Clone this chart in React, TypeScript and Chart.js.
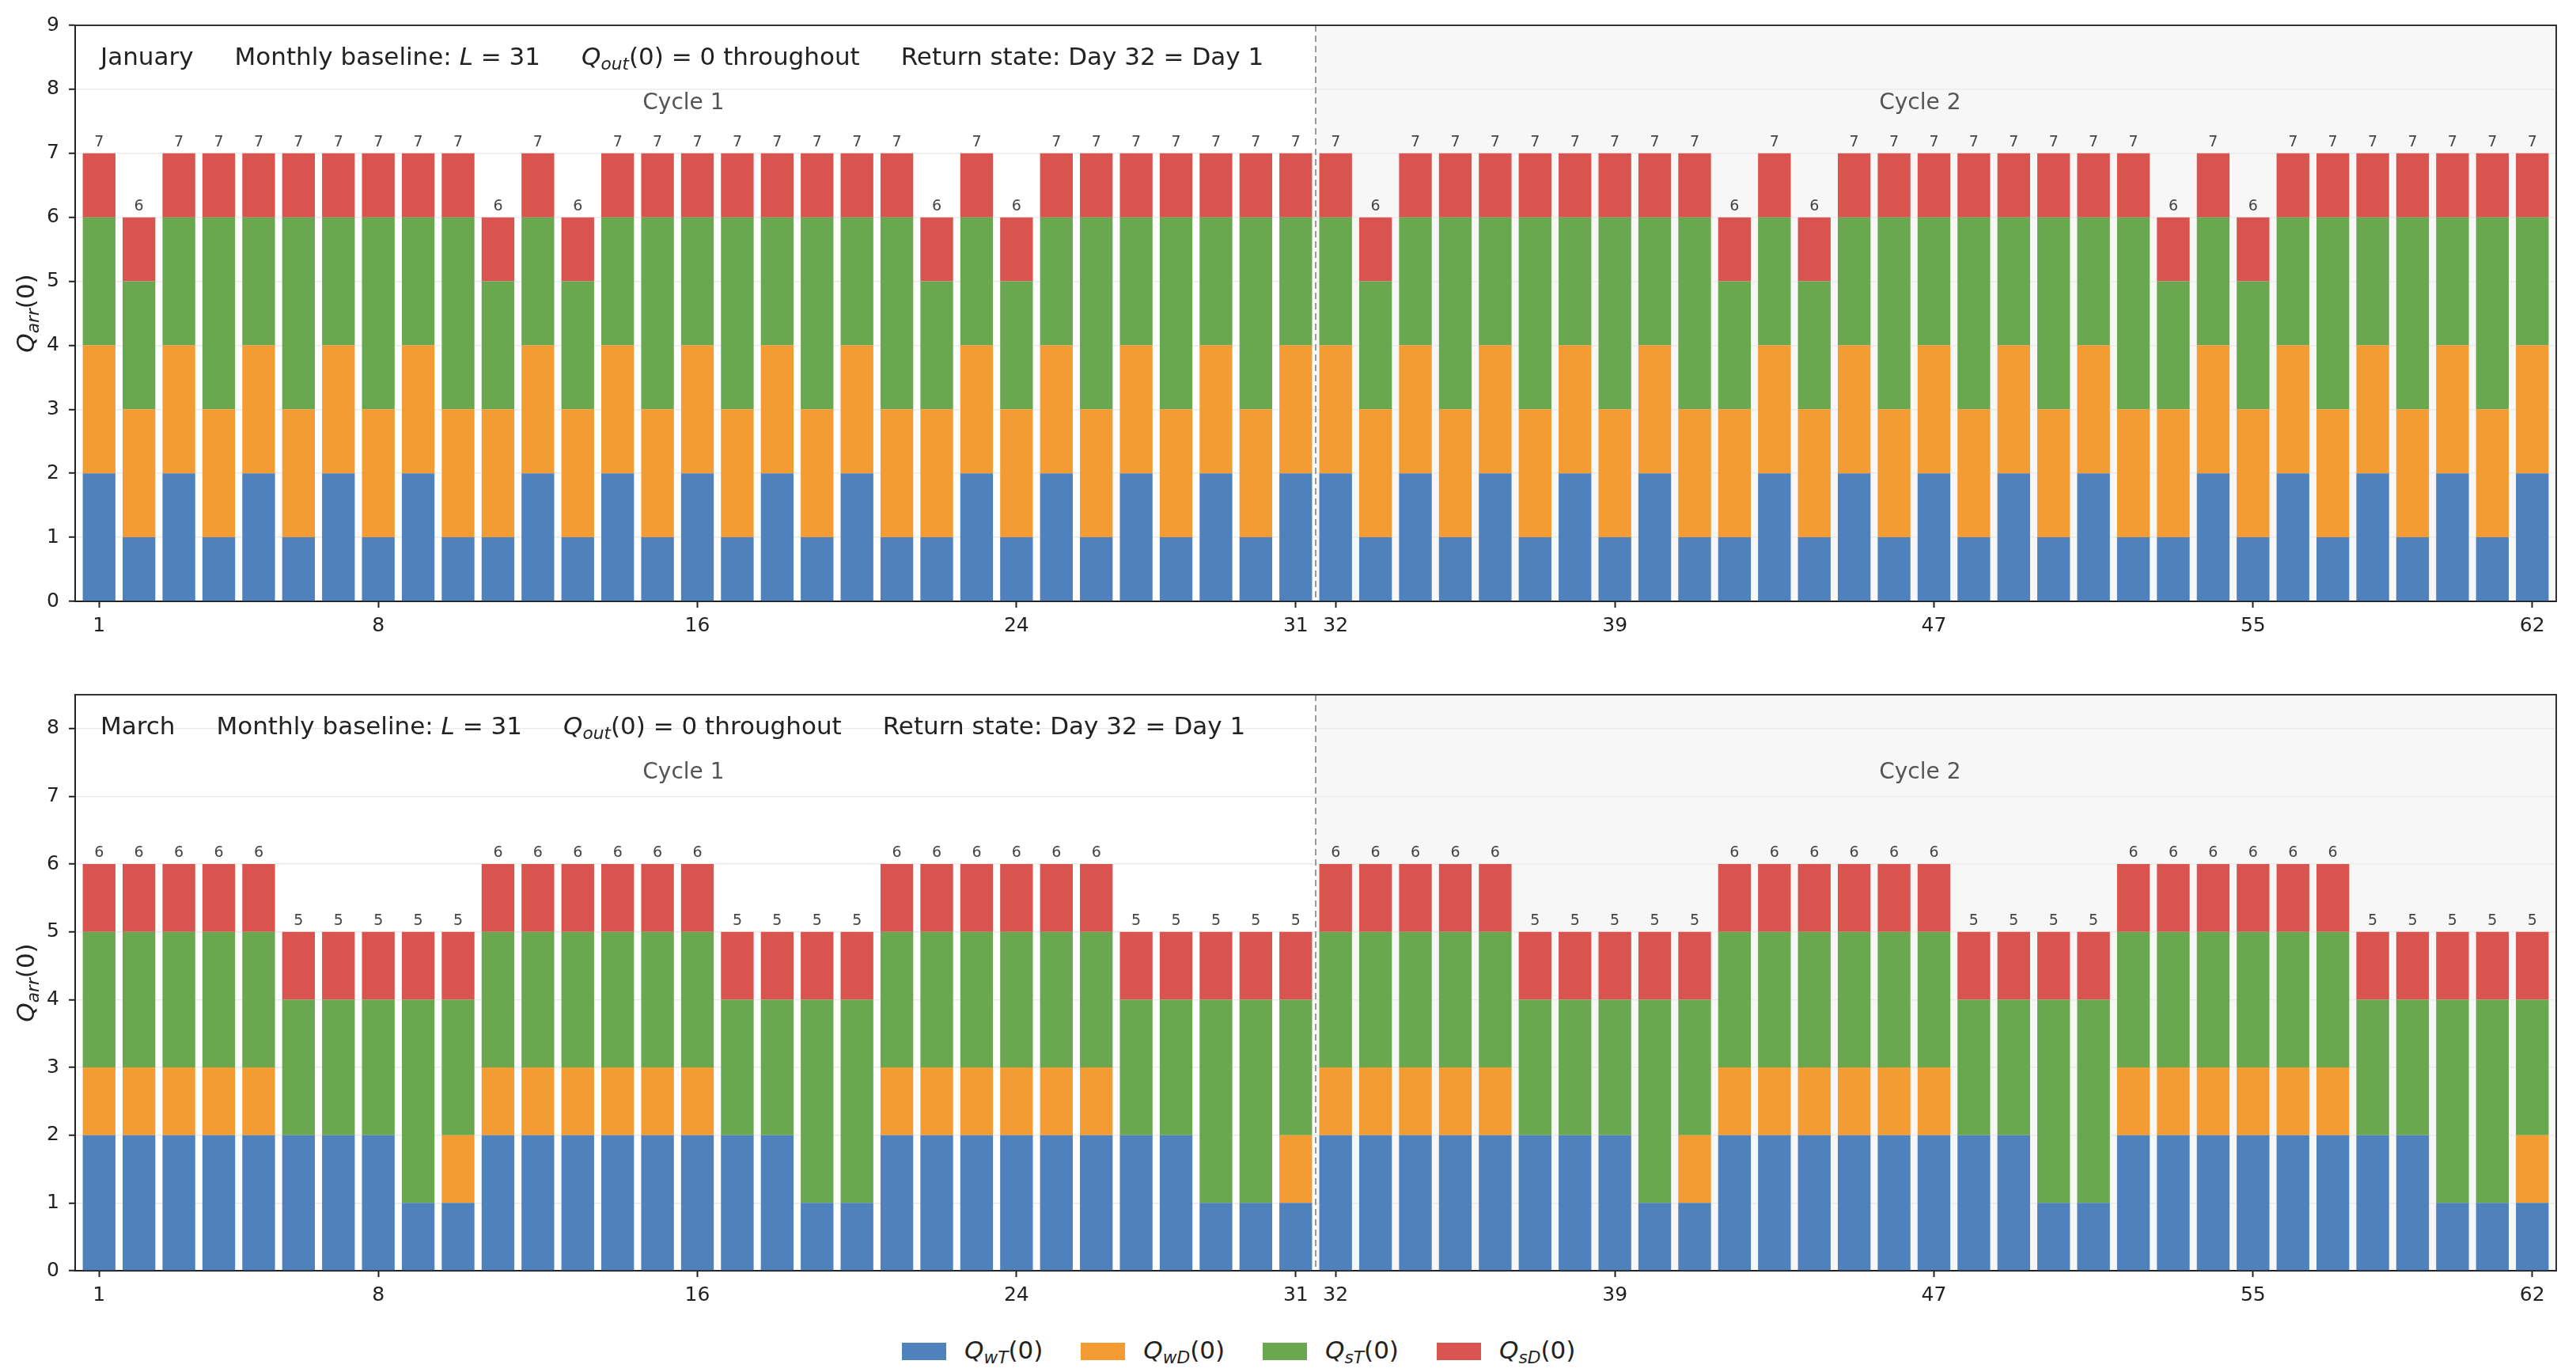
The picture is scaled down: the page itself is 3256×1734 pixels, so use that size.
import React, { useEffect, useRef } from 'react';
import { Chart, registerables } from 'chart.js';

Chart.register(...registerables);

const FONT = 'DejaVu Sans';

// days 1..62 (two 31-day cycles)
const days = Array.from({ length: 62 }, (_, i) => i + 1);
const dayTicks = [1, 8, 16, 24, 31, 32, 39, 47, 55, 62];
const cycleBoundary = 31.5;
const cycleLabelDays = [15.65, 46.65];
const cycleLabels = ['Cycle 1', 'Cycle 2'];

const seriesSubs = ['wT', 'wD', 'sT', 'sD'];
const seriesColors = ['#4f81bd', '#f39c34', '#6aa84f', '#d9534f'];

// January
const janWT = [
    2, 1, 2, 1, 2, 1, 2, 1, 2, 1, 1, 2, 1, 2, 1, 2, 1, 2, 1, 2, 1, 1, 2, 1, 2, 1, 2, 1, 2, 1, 2,
    2, 1, 2, 1, 2, 1, 2, 1, 2, 1, 1, 2, 1, 2, 1, 2, 1, 2, 1, 2, 1, 1, 2, 1, 2, 1, 2, 1, 2, 1, 2,
];
const janWD = [
    2, 2, 2, 2, 2, 2, 2, 2, 2, 2, 2, 2, 2, 2, 2, 2, 2, 2, 2, 2, 2, 2, 2, 2, 2, 2, 2, 2, 2, 2, 2,
    2, 2, 2, 2, 2, 2, 2, 2, 2, 2, 2, 2, 2, 2, 2, 2, 2, 2, 2, 2, 2, 2, 2, 2, 2, 2, 2, 2, 2, 2, 2,
];
const janST = [
    2, 2, 2, 3, 2, 3, 2, 3, 2, 3, 2, 2, 2, 2, 3, 2, 3, 2, 3, 2, 3, 2, 2, 2, 2, 3, 2, 3, 2, 3, 2,
    2, 2, 2, 3, 2, 3, 2, 3, 2, 3, 2, 2, 2, 2, 3, 2, 3, 2, 3, 2, 3, 2, 2, 2, 2, 3, 2, 3, 2, 3, 2,
];
const janSD = [
    1, 1, 1, 1, 1, 1, 1, 1, 1, 1, 1, 1, 1, 1, 1, 1, 1, 1, 1, 1, 1, 1, 1, 1, 1, 1, 1, 1, 1, 1, 1,
    1, 1, 1, 1, 1, 1, 1, 1, 1, 1, 1, 1, 1, 1, 1, 1, 1, 1, 1, 1, 1, 1, 1, 1, 1, 1, 1, 1, 1, 1, 1,
];

// March
const marWT = [
    2, 2, 2, 2, 2, 2, 2, 2, 1, 1, 2, 2, 2, 2, 2, 2, 2, 2, 1, 1, 2, 2, 2, 2, 2, 2, 2, 2, 1, 1, 1,
    2, 2, 2, 2, 2, 2, 2, 2, 1, 1, 2, 2, 2, 2, 2, 2, 2, 2, 1, 1, 2, 2, 2, 2, 2, 2, 2, 2, 1, 1, 1,
];
const marWD = [
    1, 1, 1, 1, 1, 0, 0, 0, 0, 1, 1, 1, 1, 1, 1, 1, 0, 0, 0, 0, 1, 1, 1, 1, 1, 1, 0, 0, 0, 0, 1,
    1, 1, 1, 1, 1, 0, 0, 0, 0, 1, 1, 1, 1, 1, 1, 1, 0, 0, 0, 0, 1, 1, 1, 1, 1, 1, 0, 0, 0, 0, 1,
];
const marST = [
    2, 2, 2, 2, 2, 2, 2, 2, 3, 2, 2, 2, 2, 2, 2, 2, 2, 2, 3, 3, 2, 2, 2, 2, 2, 2, 2, 2, 3, 3, 2,
    2, 2, 2, 2, 2, 2, 2, 2, 3, 2, 2, 2, 2, 2, 2, 2, 2, 2, 3, 3, 2, 2, 2, 2, 2, 2, 2, 2, 3, 3, 2,
];
const marSD = [
    1, 1, 1, 1, 1, 1, 1, 1, 1, 1, 1, 1, 1, 1, 1, 1, 1, 1, 1, 1, 1, 1, 1, 1, 1, 1, 1, 1, 1, 1, 1,
    1, 1, 1, 1, 1, 1, 1, 1, 1, 1, 1, 1, 1, 1, 1, 1, 1, 1, 1, 1, 1, 1, 1, 1, 1, 1, 1, 1, 1, 1, 1,
];

const janTicks = [0, 1, 2, 3, 4, 5, 6, 7, 8, 9];
const marTicks = [0, 1, 2, 3, 4, 5, 6, 7, 8];

type Seg = { t: string; it?: boolean; sub?: boolean };

const fontOf = (size: number, it?: boolean) => `${it ? 'italic ' : ''}${size}px "${FONT}"`;

function richWidth(ctx: CanvasRenderingContext2D, segs: Seg[], size: number) {
    let w = 0;
    for (const s of segs) {
        ctx.font = fontOf(s.sub ? size * 0.7 : size, s.it);
        w += ctx.measureText(s.t).width;
    }
    return w;
}

function drawRich(ctx: CanvasRenderingContext2D, segs: Seg[], x: number, y: number, size: number) {
    for (const s of segs) {
        const sz = s.sub ? size * 0.7 : size;
        ctx.font = fontOf(sz, s.it);
        ctx.fillText(s.t, x, s.sub ? y + size * 0.2 : y);
        x += ctx.measureText(s.t).width;
    }
    return x;
}

const headerParts = (month: string): Seg[][] => [
    [{ t: month }],
    [{ t: 'Monthly baseline: ' }, { t: 'L', it: true }, { t: ' = 31' }],
    [{ t: 'Q', it: true }, { t: 'out', it: true, sub: true }, { t: '(0) = 0 throughout' }],
    [{ t: 'Return state: Day 32 = Day 1' }],
];

const yTitle: Seg[] = [{ t: 'Q', it: true }, { t: 'arr', it: true, sub: true }, { t: '(0)' }];

type Panel = {
    month: string;
    yMax: number;
    yTicks: number[];
    series: number[][];
};

const panels: Panel[] = [
    { month: 'January', yMax: 9, yTicks: janTicks, series: [janWT, janWD, janST, janSD] },
    { month: 'March', yMax: 8.5, yTicks: marTicks, series: [marWT, marWD, marST, marSD] },
];

const PanelChart: React.FC<{ panel: Panel; top: number }> = ({ panel, top }) => {
    const canvasRef = useRef<HTMLCanvasElement>(null);

    useEffect(() => {
        if (!canvasRef.current) return;
        const ctx = canvasRef.current.getContext('2d');
        if (!ctx) return;

        const decor = {
            id: 'decor',
            beforeDraw(chart: any) {
                const { ctx: c, chartArea, scales } = chart;
                const xb = scales.x.getPixelForValue(cycleBoundary);
                c.save();
                c.fillStyle = '#f7f7f7';
                c.fillRect(xb, chartArea.top, chartArea.right - xb, chartArea.bottom - chartArea.top);
                c.restore();
            },
            afterDatasetsDraw(chart: any) {
                const { ctx: c, chartArea, scales } = chart;
                const xb = scales.x.getPixelForValue(cycleBoundary);
                c.save();
                c.strokeStyle = '#9a9a9a';
                c.lineWidth = 2;
                c.setLineDash([8, 5]);
                c.beginPath();
                c.moveTo(xb, chartArea.top);
                c.lineTo(xb, chartArea.bottom);
                c.stroke();
                c.setLineDash([]);

                // totals above bars
                c.fillStyle = '#444';
                c.font = fontOf(19);
                c.textAlign = 'center';
                c.textBaseline = 'alphabetic';
                days.forEach((d, i) => {
                    const total = panel.series.reduce((acc, s) => acc + s[i], 0);
                    const px = scales.x.getPixelForValue(d);
                    const py = scales.y.getPixelForValue(total);
                    c.fillText(String(total), px, py - 9);
                });
                c.restore();
            },
            afterDraw(chart: any) {
                const { ctx: c, chartArea, scales } = chart;
                const { left, right, top: t, bottom } = chartArea;
                c.save();
                c.strokeStyle = '#333';
                c.lineWidth = 2;
                c.beginPath();
                c.moveTo(left, t);
                c.lineTo(right, t);
                c.lineTo(right, bottom);
                c.stroke();

                // header line
                c.fillStyle = '#222';
                c.textAlign = 'left';
                c.textBaseline = 'alphabetic';
                let hx = left + 32;
                for (const part of headerParts(panel.month)) {
                    hx = drawRich(c, part, hx, t + 50, 31) + 52;
                }

                // cycle labels
                c.fillStyle = '#555';
                c.font = fontOf(28);
                c.textAlign = 'center';
                cycleLabels.forEach((lab, k) => {
                    c.fillText(lab, scales.x.getPixelForValue(cycleLabelDays[k]), t + 106);
                });

                // y title
                c.fillStyle = '#222';
                c.textAlign = 'left';
                const size = 31;
                const w = richWidth(c, yTitle, size);
                c.translate(32, (t + bottom) / 2);
                c.rotate(-Math.PI / 2);
                drawRich(c, yTitle, -w / 2, size * 0.35, size);
                c.restore();
            },
        };

        const chart = new Chart(ctx, {
            type: 'bar',
            data: {
                datasets: panel.series.map((vals, k) => ({
                    label: 'Q' + seriesSubs[k] + '(0)',
                    data: days.map((d, i) => ({ x: d, y: vals[i] })),
                    backgroundColor: seriesColors[k],
                    borderWidth: 0,
                    barPercentage: 0.82,
                    categoryPercentage: 1,
                })),
            },
            options: {
                responsive: false,
                animation: false,
                layout: { padding: { top: 32, right: 25, left: 0, bottom: 0 } },
                plugins: {
                    legend: { display: false },
                    tooltip: { enabled: false },
                },
                scales: {
                    x: {
                        type: 'linear',
                        min: 0.4,
                        max: 62.6,
                        offset: false,
                        stacked: true,
                        afterBuildTicks: (s: any) => {
                            s.ticks = dayTicks.map((v) => ({ value: v }));
                        },
                        afterFit: (s: any) => {
                            s.height = 60;
                        },
                        ticks: {
                            autoSkip: false,
                            maxRotation: 0,
                            padding: 8,
                            color: '#222',
                            font: { family: FONT, size: 25 },
                            callback: (v: any) => String(v),
                        },
                        grid: {
                            offset: false,
                            drawOnChartArea: false,
                            drawTicks: true,
                            tickLength: 8,
                            tickColor: '#222',
                            tickWidth: 2,
                        },
                        border: { color: '#222', width: 2 },
                    },
                    y: {
                        stacked: true,
                        min: 0,
                        max: panel.yMax,
                        afterBuildTicks: (s: any) => {
                            s.ticks = panel.yTicks.map((v) => ({ value: v }));
                        },
                        afterFit: (s: any) => {
                            s.width = 95;
                        },
                        ticks: {
                            padding: 12,
                            color: '#222',
                            font: { family: FONT, size: 25 },
                            callback: (v: any) => String(v),
                        },
                        grid: {
                            color: '#ebebeb',
                            lineWidth: 1.5,
                            tickColor: '#222',
                            tickLength: 8,
                            tickWidth: 2,
                        },
                        border: { color: '#222', width: 2 },
                    },
                },
            },
            plugins: [decor],
        });

        return () => {
            chart.destroy();
        };
    }, [panel]);

    return (
        <canvas
            ref={canvasRef}
            width={3256}
            height={820}
            style={{ position: 'absolute', left: 0, top, width: 3256, height: 820 }}
        />
    );
};

const Legend: React.FC = () => (
    <div
        style={{
            position: 'absolute',
            left: 1140,
            top: 1688,
            height: 40,
            display: 'flex',
            alignItems: 'center',
            fontFamily: FONT,
            fontSize: 31,
            color: '#222',
        }}
    >
        {seriesSubs.map((sub, k) => (
            <div key={sub} style={{ display: 'flex', alignItems: 'center', marginRight: 48 }}>
                <span style={{ width: 56, height: 22, background: seriesColors[k], marginRight: 23 }} />
                <span style={{ whiteSpace: 'nowrap', lineHeight: '40px' }}>
                    <i>Q</i>
                    <i style={{ fontSize: '0.7em', position: 'relative', top: '0.28em' }}>{sub}</i>
                    (0)
                </span>
            </div>
        ))}
    </div>
);

const App: React.FC = () => (
    <div style={{ position: 'absolute', left: 0, top: 0, width: 3256, height: 1734, background: '#fff' }}>
        <PanelChart panel={panels[0]} top={0} />
        <PanelChart panel={panels[1]} top={846} />
        <Legend />
    </div>
);

export default App;
